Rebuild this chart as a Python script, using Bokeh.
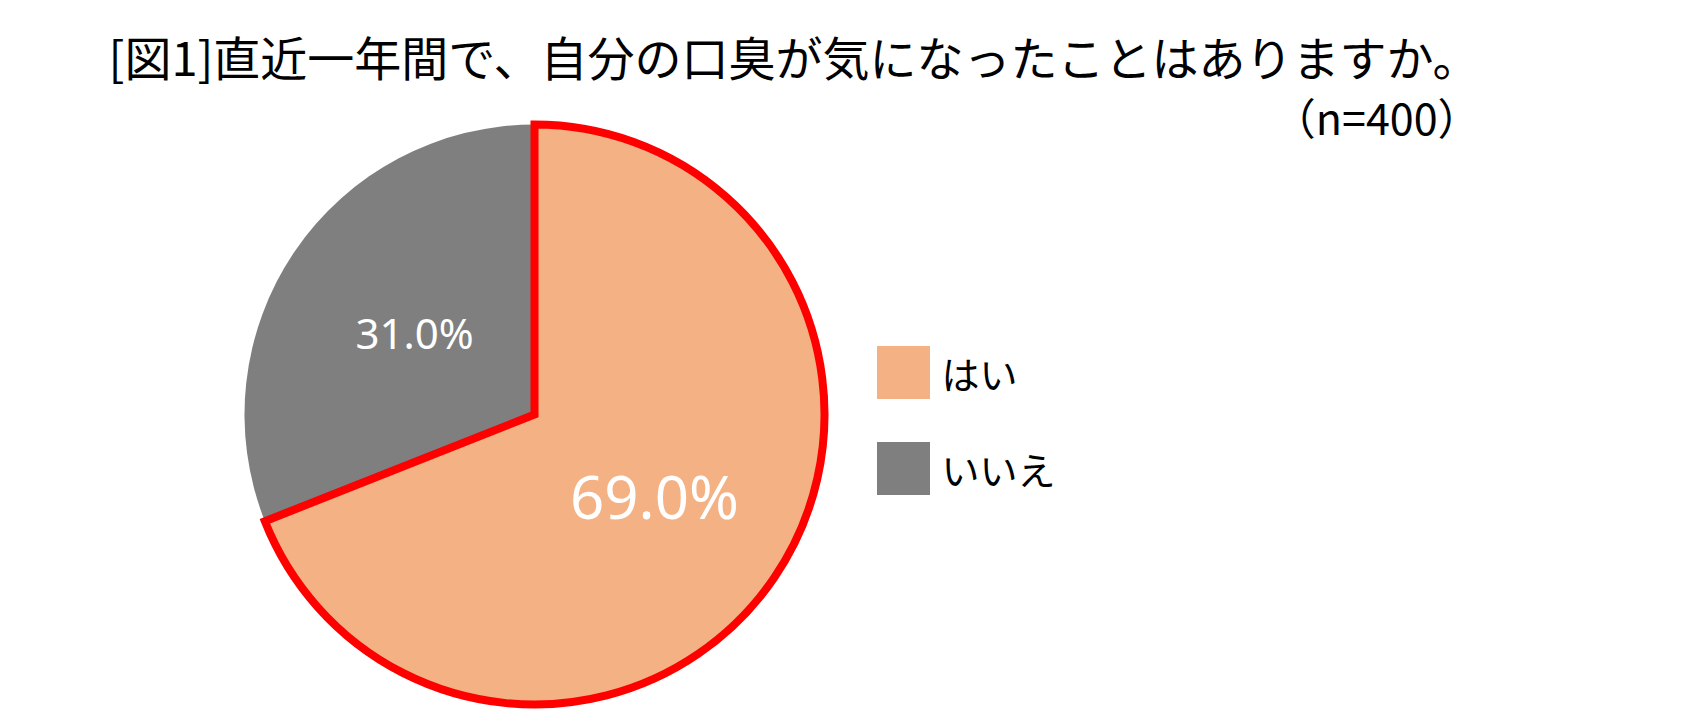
import math
from bokeh.plotting import figure
from bokeh.models import Range1d, ColumnDataSource
from bokeh.core.properties import value
from bokeh.embed import file_html
from bokeh.resources import INLINE

# --- data ---
title_text = "[図1]直近一年間で、自分の口臭が気になったことはありますか。"
sample_note = "（n=400）"
categories = ["はい", "いいえ"]
shares = [69.0, 31.0]
fill_colors = ["#F4B183", "#7F7F7F"]
outline_colors = ["#FF0000", None]
label_sizes = ["60px", "42px"]

W, H = 1681, 721

def sy(y):
    # screen-style y (from top) to data y (from bottom)
    return H - y

p = figure(width=W, height=H, x_range=Range1d(0, W), y_range=Range1d(0, H),
           output_backend="svg", toolbar_location=None,
           x_axis_location=None, y_axis_location=None, min_border=0)
p.grid.visible = False
p.outline_line_color = None
p.background_fill_color = "white"

cx, cy, r = 534, sy(414), 290

# slice angles: start at 12 o'clock, first slice runs clockwise
total = sum(shares)
starts, ends, mids = [], [], []
a = math.pi / 2
for v in shares:
    span = 2 * math.pi * v / total
    starts.append(a - span)
    ends.append(a)
    mids.append(a - span / 2)
    a -= span

# grey slice underneath, highlighted slice with red outline on top
for i in reversed(range(len(shares))):
    kw = dict(line_color=outline_colors[i], line_width=8, line_join="miter") if outline_colors[i] else dict(line_color=None)
    p.wedge(x=[cx], y=[cy], radius=r, start_angle=[starts[i]], end_angle=[ends[i]],
            fill_color=fill_colors[i], **kw)

# percentage labels at half radius along each slice's mid angle
for i, v in enumerate(shares):
    p.text(x=[cx + 0.5 * r * math.cos(mids[i])], y=[cy + 0.5 * r * math.sin(mids[i])],
           text=[f"{v:.1f}%"], text_color="white", text_font=value("Noto Sans"),
           text_font_size=label_sizes[i], text_align="center", text_baseline="middle")

# legend
leg_x, leg_y0, leg_step, box = 903, 372, 96, 53
leg_src = ColumnDataSource(dict(
    x=[leg_x] * len(categories),
    y=[sy(leg_y0 + k * leg_step) for k in range(len(categories))],
    tx=[leg_x + 38] * len(categories),
    label=categories, color=fill_colors))
p.rect(x="x", y="y", width=box, height=box, fill_color="color", line_color=None, source=leg_src)
p.text(x="tx", y="y", text="label", text_font=value("Noto Sans CJK JP"), text_font_size="38px",
       text_color="black", text_align="left", text_baseline="middle", source=leg_src)

# title and sample size
p.text(x=[108], y=[sy(55)], text=[title_text], text_font=value("Noto Sans CJK JP"),
       text_font_size="47px", text_color="black",
       text_align="left", text_baseline="middle")
p.text(x=[1480], y=[sy(115)], text=[sample_note], text_font=value("Noto Sans CJK JP"),
       text_font_size="43px", text_color="black", text_align="right", text_baseline="middle")

open("out.html", "w").write(file_html(p, INLINE))
